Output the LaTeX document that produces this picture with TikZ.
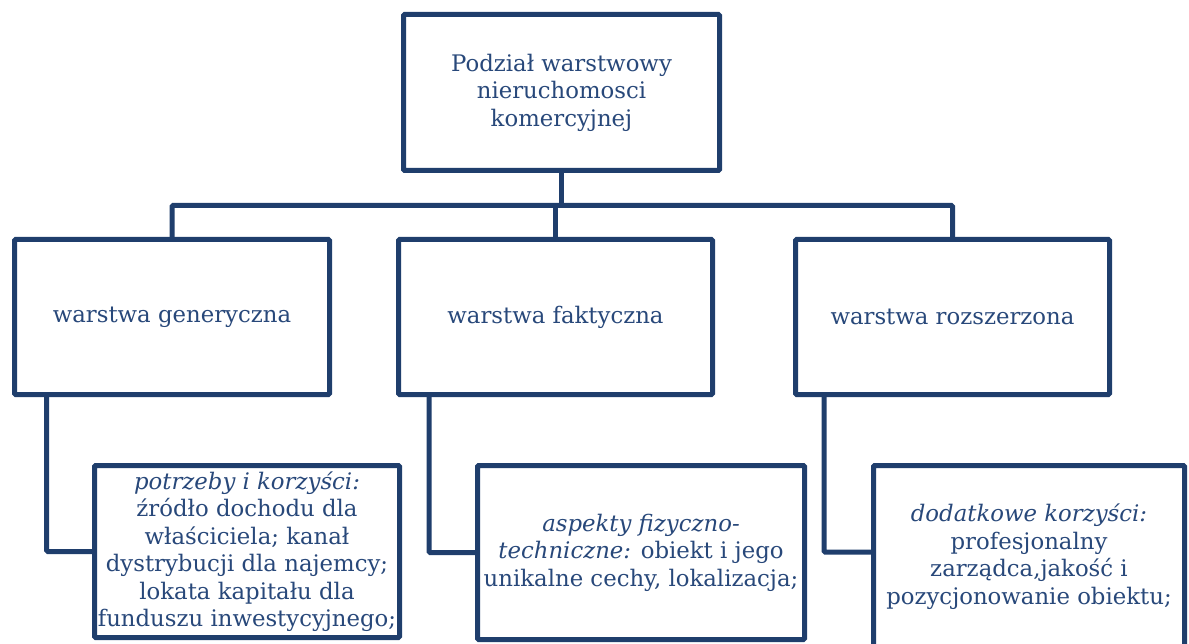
\documentclass[tikz,border=0pt]{standalone}
\usepackage{fontspec}
\setmainfont{DejaVu Serif}
\definecolor{linenavy}{RGB}{31,62,108}
\definecolor{textnavy}{RGB}{40,72,122}
\begin{document}
\begin{tikzpicture}[x=1pt,y=-1pt,
  frame/.style={draw=linenavy, line width=5pt, fill=white, rectangle,
    rounded corners=1.2pt, inner sep=0pt, align=center, text=textnavy,
    font=\fontsize{22.8}{27.5}\selectfont},
  link/.style={draw=linenavy, line width=5pt, rounded corners=1.2pt}]
\useasboundingbox (0,0) rectangle (1189,644);
\clip (0,0) rectangle (1189,644);

% root
\node[frame, minimum width=316pt, minimum height=156pt] (root) at (561.5,92.5)
  {Podział warstwowy\\nieruchomosci\\komercyjnej};

% layers
\node[frame, minimum width=315pt, minimum height=155pt] (gen) at (172,317)
  {warstwa generyczna};
\node[frame, minimum width=314pt, minimum height=155pt] (fakt) at (555.5,317)
  {warstwa faktyczna};
\node[frame, minimum width=314pt, minimum height=155pt] (roz) at (952.5,317)
  {warstwa rozszerzona};

% details
\node[frame, minimum width=305pt, minimum height=172pt] (dgen) at (247,551.5)
  {\textit{potrzeby i korzyści:}\\źródło dochodu dla\\właściciela; kanał\\dystrybucji dla najemcy;\\lokata kapitału dla\\funduszu inwestycyjnego;};
\node[frame, minimum width=327pt, minimum height=174pt] (dfakt) at (641,552.5)
  {\textit{aspekty fizyczno-}\\\textit{techniczne:} obiekt i jego\\unikalne cechy, lokalizacja;};
\node[frame, minimum width=311pt, minimum height=182pt] (droz) at (1029,556.5)
  {\textit{dodatkowe korzyści:}\\profesjonalny\\zarządca,jakość i\\pozycjonowanie obiektu;};

% bus between root and layers
\coordinate (busL) at (172,205.5);
\coordinate (busR) at (952.5,205.5);
\draw[link] (root.south) -- (root.south |- busL);
\draw[link] (gen.north) -- (busL) -- (busR) -- (roz.north);
\draw[link] (fakt.north) -- (fakt.north |- busL);

% elbows from layers to details
\draw[link] ([xshift=-125.3pt]gen.south) |- (dgen.west);
\draw[link] ([xshift=-126.5pt]fakt.south) |- (dfakt.west);
\draw[link] ([xshift=-128.5pt]roz.south) |- ([yshift=4.5pt]droz.west);
\end{tikzpicture}
\end{document}
